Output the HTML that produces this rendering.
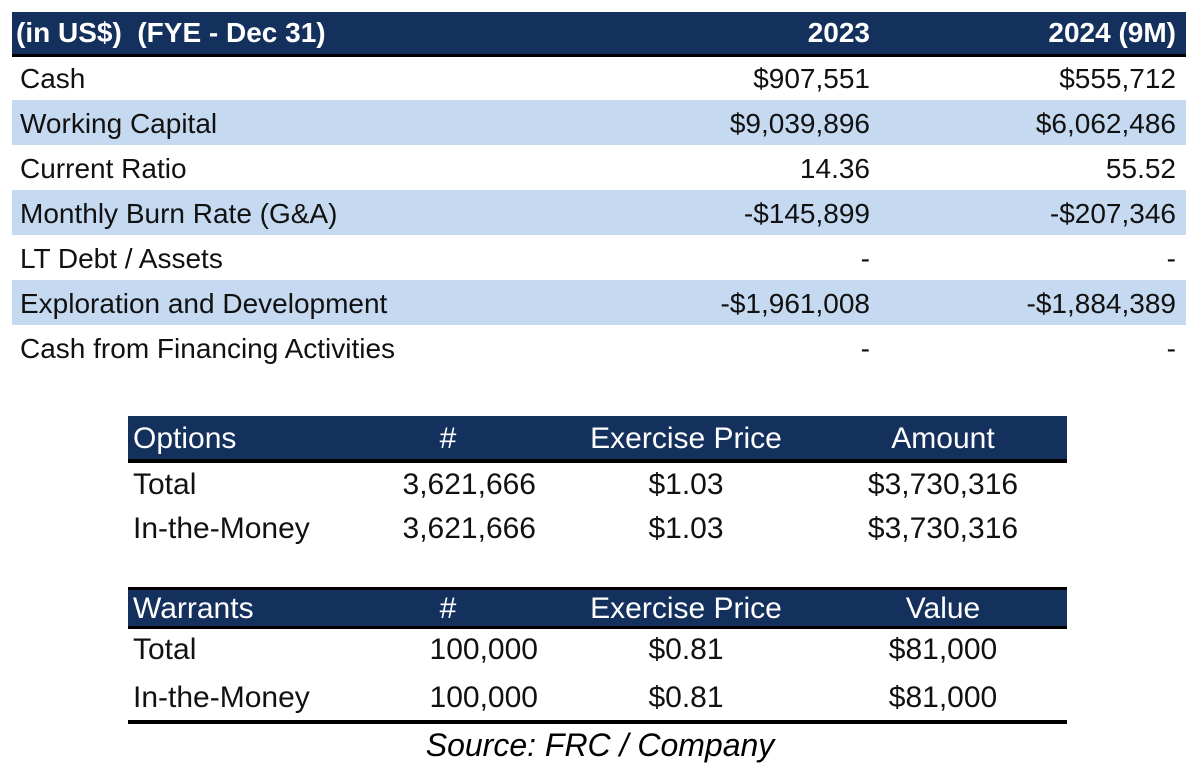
<!DOCTYPE html>
<html><head><meta charset="utf-8"><style>
body{margin:0;width:1196px;height:780px;background:#fff;position:relative;overflow:hidden;font-family:"Liberation Sans",Arial,sans-serif;color:#111}
div{position:absolute;box-sizing:border-box}
.t{font-size:28px;line-height:1;white-space:nowrap}
.b{font-size:30px;line-height:1;white-space:nowrap}
.navy{background:#14315e}
.blue{background:#c5d9f0}
.w{color:#fff}
.r{text-align:right}
.c{text-align:center}
</style></head><body>
<div class="navy" style="left:12px;top:12px;width:1174px;height:43px"></div>
<div style="left:12px;top:54px;width:1174px;height:3px;background:#000"></div>
<div class="t w" style="left:16px;top:19px;font-weight:bold">(in US$)&nbsp; (FYE - Dec 31)</div>
<div class="t w r" style="left:700px;top:19px;width:170px;font-weight:bold">2023</div>
<div class="t w r" style="left:1000px;top:19px;width:176px;font-weight:bold">2024 (9M)</div>

<div class="blue" style="left:12px;top:100px;width:1174px;height:45px"></div>
<div class="blue" style="left:12px;top:190px;width:1174px;height:45px"></div>
<div class="blue" style="left:12px;top:280px;width:1174px;height:45px"></div>

<div class="t" style="left:20px;top:65px">Cash</div>
<div class="t r" style="left:600px;top:65px;width:270px">$907,551</div>
<div class="t r" style="left:900px;top:65px;width:276px">$555,712</div>

<div class="t" style="left:20px;top:110px">Working Capital</div>
<div class="t r" style="left:600px;top:110px;width:270px">$9,039,896</div>
<div class="t r" style="left:900px;top:110px;width:276px">$6,062,486</div>

<div class="t" style="left:20px;top:155px">Current Ratio</div>
<div class="t r" style="left:600px;top:155px;width:270px">14.36</div>
<div class="t r" style="left:900px;top:155px;width:276px">55.52</div>

<div class="t" style="left:20px;top:200px">Monthly Burn Rate (G&amp;A)</div>
<div class="t r" style="left:600px;top:200px;width:270px">-$145,899</div>
<div class="t r" style="left:900px;top:200px;width:276px">-$207,346</div>

<div class="t" style="left:20px;top:245px">LT Debt / Assets</div>
<div class="t r" style="left:600px;top:245px;width:270px">-</div>
<div class="t r" style="left:900px;top:245px;width:276px">-</div>

<div class="t" style="left:20px;top:290px">Exploration and Development</div>
<div class="t r" style="left:600px;top:290px;width:270px">-$1,961,008</div>
<div class="t r" style="left:900px;top:290px;width:276px">-$1,884,389</div>

<div class="t" style="left:20px;top:335px">Cash from Financing Activities</div>
<div class="t r" style="left:600px;top:335px;width:270px">-</div>
<div class="t r" style="left:900px;top:335px;width:276px">-</div>

<!-- Options -->
<div class="navy" style="left:128px;top:416px;width:939px;height:44px"></div>
<div style="left:128px;top:459px;width:939px;height:4px;background:#000"></div>
<div class="b w" style="left:133px;top:424px">Options</div>
<div class="b w c" style="left:418px;top:424px;width:60px">#</div>
<div class="b w c" style="left:566px;top:424px;width:240px">Exercise Price</div>
<div class="b w c" style="left:843px;top:424px;width:200px">Amount</div>

<div class="b" style="left:133px;top:470px">Total</div>
<div class="b r" style="left:360px;top:470px;width:176px">3,621,666</div>
<div class="b c" style="left:586px;top:470px;width:200px">$1.03</div>
<div class="b c" style="left:843px;top:470px;width:200px">$3,730,316</div>

<div class="b" style="left:133px;top:514px">In-the-Money</div>
<div class="b r" style="left:360px;top:514px;width:176px">3,621,666</div>
<div class="b c" style="left:586px;top:514px;width:200px">$1.03</div>
<div class="b c" style="left:843px;top:514px;width:200px">$3,730,316</div>

<!-- Warrants -->
<div style="left:128px;top:587px;width:939px;height:3px;background:#000"></div>
<div class="navy" style="left:128px;top:590px;width:939px;height:37px"></div>
<div style="left:128px;top:626px;width:939px;height:3px;background:#000"></div>
<div class="b w" style="left:133px;top:594px">Warrants</div>
<div class="b w c" style="left:418px;top:594px;width:60px">#</div>
<div class="b w c" style="left:566px;top:594px;width:240px">Exercise Price</div>
<div class="b w c" style="left:843px;top:594px;width:200px">Value</div>

<div class="b" style="left:133px;top:635px">Total</div>
<div class="b r" style="left:360px;top:635px;width:178px">100,000</div>
<div class="b c" style="left:586px;top:635px;width:200px">$0.81</div>
<div class="b c" style="left:843px;top:635px;width:200px">$81,000</div>

<div class="b" style="left:133px;top:683px">In-the-Money</div>
<div class="b r" style="left:360px;top:683px;width:178px">100,000</div>
<div class="b c" style="left:586px;top:683px;width:200px">$0.81</div>
<div class="b c" style="left:843px;top:683px;width:200px">$81,000</div>
<div style="left:128px;top:720px;width:939px;height:4px;background:#000"></div>

<div class="b c" style="left:300px;top:729px;width:600px;font-size:32px;font-style:italic;color:#000">Source: FRC / Company</div>
</body></html>
